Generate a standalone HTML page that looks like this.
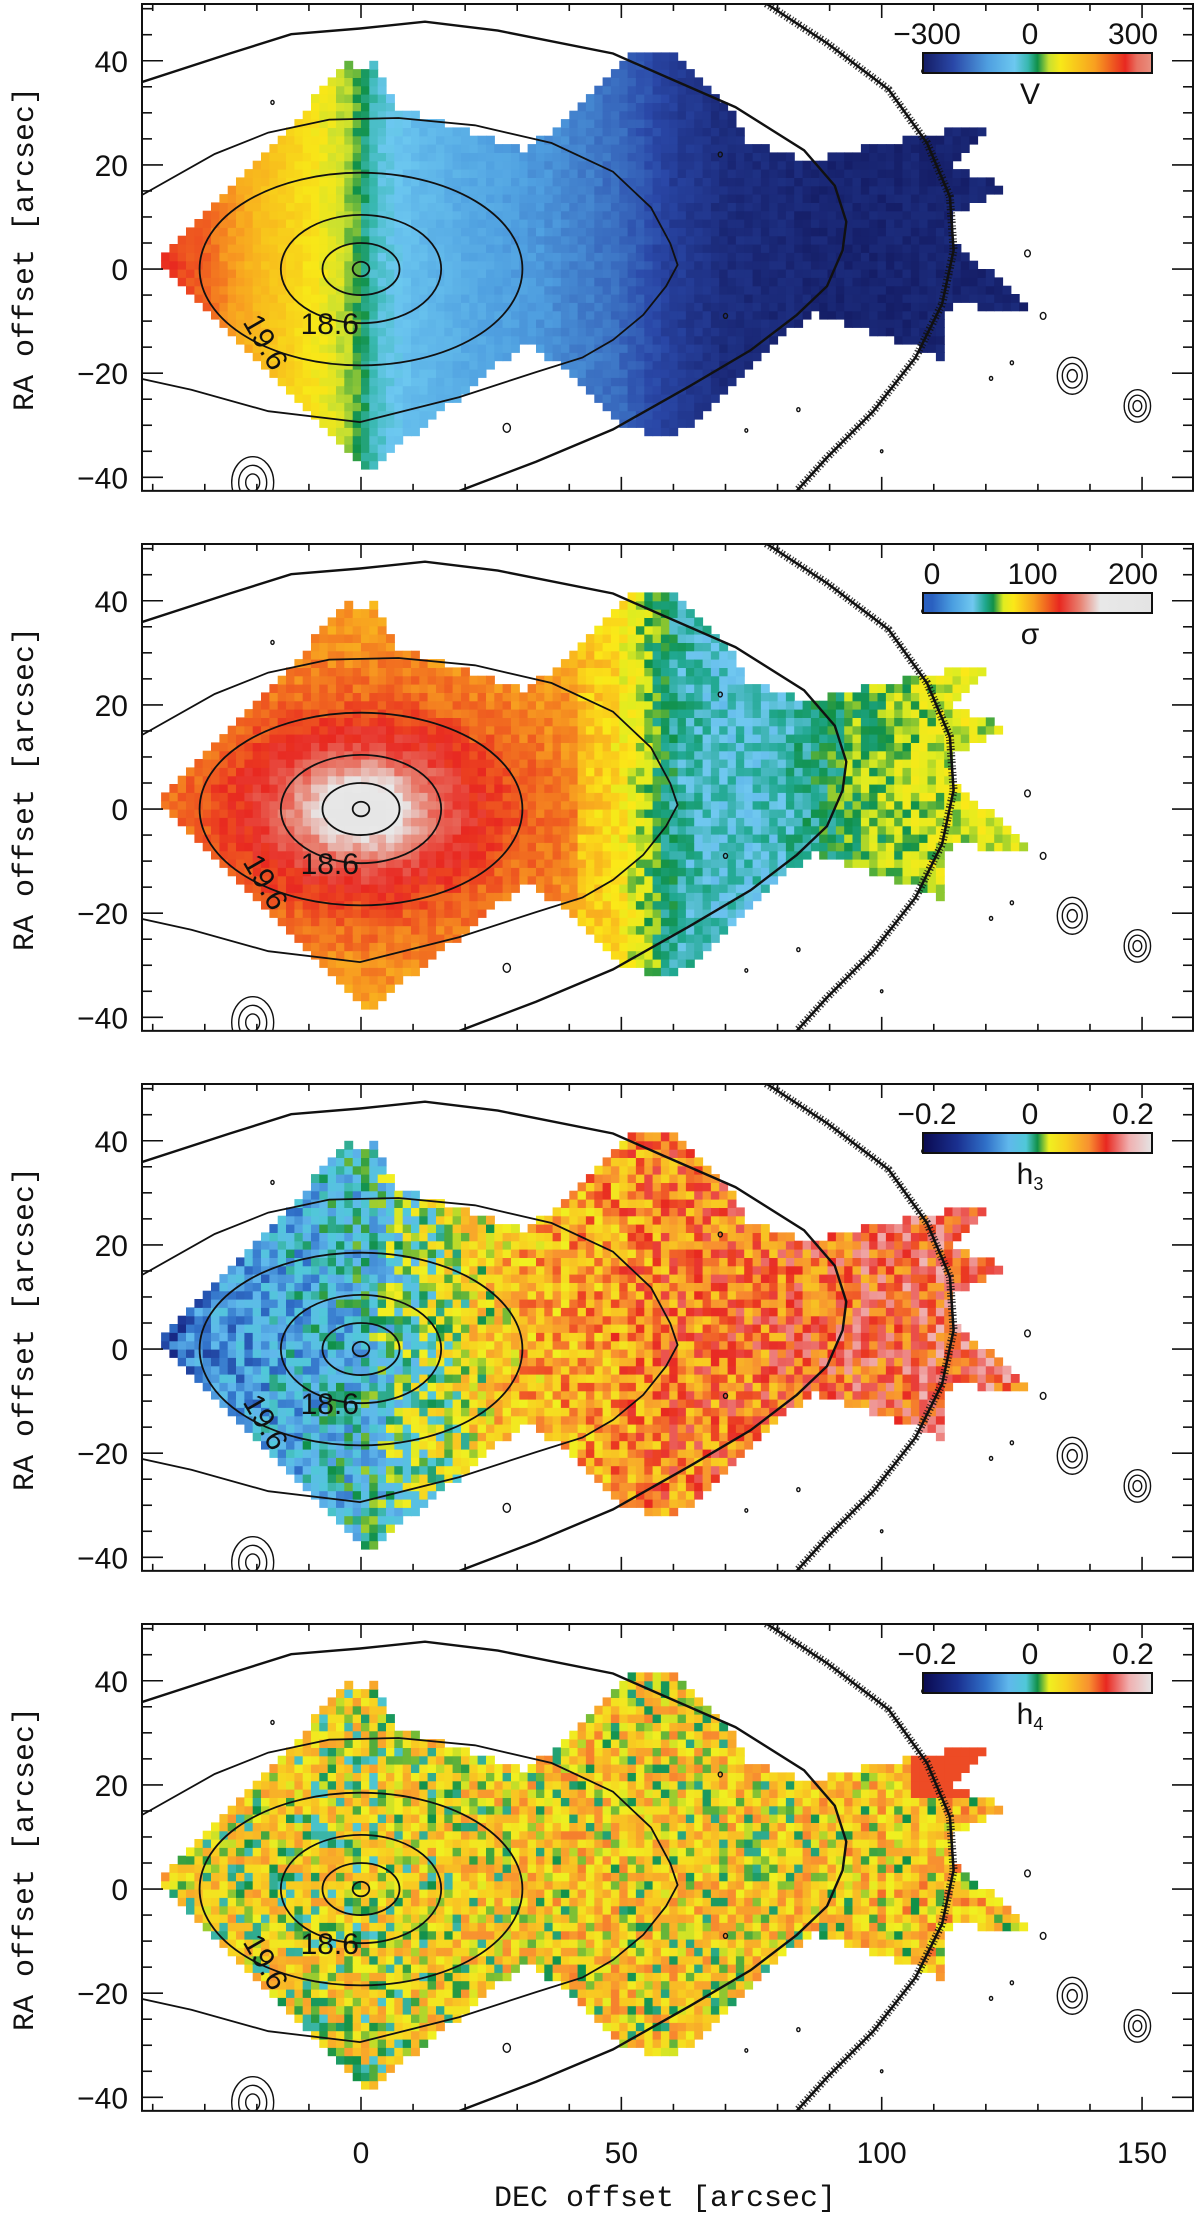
<!DOCTYPE html>
<html><head><meta charset="utf-8"><style>
html,body{margin:0;padding:0;background:#fff;}
svg{display:block;}
.tk{font-family:"Liberation Sans",sans-serif;font-size:30px;fill:#111;}
.ttl{font-family:"Liberation Mono",monospace;font-size:30px;fill:#111;}
</style></head><body>
<svg id="fig" width="1200" height="2216" viewBox="0 0 1200 2216" xmlns="http://www.w3.org/2000/svg"></svg>
<script>
// ---- data ----
const panelNames = ['V','sigma','h3','h4'];
const vDec = [-40,-30,-20,-10,-3,0,3,10,20,35,50,60,70,90,120];
const vVal = [240,190,120,70,30,0,-40,-80,-110,-140,-185,-240,-270,-285,-285];
const sigRad = [0,3,6,10,15,22,30,40];
const sigRadVal = [200,185,160,140,125,112,104,98];
const sigDec = [40,48,55,62,70,80,88,95,105,115,125];
const sigDecVal = [92,85,65,48,42,45,55,62,68,72,70];
const h3Dec = [-40,-30,-15,0,10,20,30,45,60,80,110];
const h3Val = [-0.13,-0.08,-0.05,-0.035,-0.005,0.03,0.06,0.07,0.09,0.1,0.12];
const h4Dec = [-40,0,40,80,100,125];
const h4Val = [0.04,0.03,0.045,0.04,0.05,0.05];
const speckle = [0.3,-0.7,0.9,-0.2,0.5,-1.0,0.1,0.8,-0.5,0.2,-0.9,0.6,-0.3,1.0,-0.6,0.4,-0.1,0.7,-0.4];
const vTicks = [-300,0,300], sigTicks = [0,100,200], hTicks = [-0.2,0,0.2];
const xTickLabels = [0,50,100,150];
const yTickLabels = [-40,-20,0,20,40];
// footprint (arcsec)
const footD = [-39.2,-2.4,-0.2,2.8,7.2,32.2,52.8,60.1,71.9,74.1,85.1,107.2,122.6,113.1,124.8,113.8,113.8,126.3,128.5,113.1,111.6,98.4,86.6,60.1,51.3,32.2,1.3,-0.2];
const footR = [0.8,39.6,38.6,39.6,31.1,22.8,42.0,41.4,29.0,24.9,20.7,25.6,28.0,20.1,15.6,11.1,5.0,-5.3,-8.4,-6.7,-17.0,-12.2,-8.1,-32.5,-30.4,-13.6,-38.7,-37.6];
// isophotes
const c5D=[-42.1,-28.1,-17.8,-6.1,7.2,21.9,36.6,48.4,55.7,59.4,60.8,58.6,54.2,48.4,42.5,33.6,18.9,-0.2,-17.8,-32.6,-42.1];
const c5R=[14.2,22.1,26.2,28.7,29.0,27.6,24.2,18.7,11.8,4.9,0.8,-3.3,-8.8,-13.6,-17.0,-19.8,-24.6,-29.4,-27.3,-23.2,-21.1];
const c6D=[-42.1,-25.2,-13.4,-0.2,12.3,26.3,48.4,58.6,71.9,85.1,91.0,93.2,92.5,89.5,83.7,74.8,63.1,48.4,33.6,18.9];
const c6R=[35.9,41.4,45.1,46.2,47.5,45.8,41.4,36.9,31.1,22.8,16.0,9.1,3.6,-3.3,-8.8,-15.6,-22.5,-30.8,-37.0,-42.6];
const ringD=[77.8,89.5,101.3,108.7,113.1,113.8,111.6,106.5,98.4,89.5,83.7];
const ringR=[51.0,43.4,34.5,24.2,13.9,3.6,-6.7,-17.0,-27.3,-36.2,-42.6];
const ellA=[1.6,7.4,15.4,31], ellB=[1.4,5,10.4,18.5];
const srcD=[-20.8,149.1,136.6,28,70,84,125,128,121,69,-17,108,74,100,131];
const srcR=[-41,-26.3,-20.5,-30.5,-9,-27,-18,3,-21,22,32,38,-31,-35,-9];
const srcSize=[3.5,2.2,2.5,1.8,1,0.8,0.8,1.4,0.8,1,0.8,0.8,0.7,0.6,1.4];
// colormaps
const vCmap=[[-300,'#141c64'],[-220,'#2a48a8'],[-130,'#4f9fe0'],[-60,'#6cc8f0'],[-25,'#38b8b0'],[0,'#109048'],[30,'#c8e030'],[60,'#f8e818'],[150,'#f8a020'],[230,'#e82820'],[260,'#e87060'],[300,'#e89080']];
const sCmap=[[0,'#2a60c0'],[20,'#4a9ee0'],[40,'#70c8f0'],[52,'#20a890'],[60,'#109048'],[70,'#e0ec20'],[80,'#fbe818'],[100,'#f8a020'],[125,'#e82820'],[145,'#e88070'],[165,'#e8e8e8'],[216,'#e4e4e4']];
const hCmap=[[-0.2,'#0a0a50'],[-0.14,'#1a3090'],[-0.09,'#3070c8'],[-0.05,'#60b8ec'],[-0.02,'#50c8d8'],[0,'#109048'],[0.02,'#f0f020'],[0.05,'#f8d020'],[0.09,'#f89030'],[0.12,'#e82820'],[0.16,'#f0b0b0'],[0.2,'#e4e4e4']];

// ---- axes ----
const X = d => 361 + 5.207*d;
const Y = (r,p) => 4 + 540*p + (50.9 - r)*5.207;
const NS='http://www.w3.org/2000/svg';
const svg=document.getElementById('fig');
function mk(tag,attrs,parent){const e=document.createElementNS(NS,tag);for(const k in attrs)e.setAttribute(k,attrs[k]);(parent||svg).appendChild(e);return e;}
function interp(xs,ys,x){if(x<=xs[0])return ys[0];for(let i=1;i<xs.length;i++){if(x<=xs[i]){const t=(x-xs[i-1])/(xs[i]-xs[i-1]);return ys[i-1]+t*(ys[i]-ys[i-1]);}}return ys[ys.length-1];}
function hex(c){return [parseInt(c.substr(1,2),16),parseInt(c.substr(3,2),16),parseInt(c.substr(5,2),16)];}
function cmap(st,v){if(v<=st[0][0])return st[0][1];for(let i=1;i<st.length;i++){if(v<=st[i][0]){const t=(v-st[i-1][0])/(st[i][0]-st[i-1][0]);const a=hex(st[i-1][1]),b=hex(st[i][1]);return 'rgb('+a.map((q,k)=>Math.round(q+t*(b[k]-q))).join(',')+')';}}return st[st.length-1][1];}
function inPoly(d,r){let c=false;for(let i=0,j=footD.length-1;i<footD.length;j=i++){if(((footR[i]>r)!=(footR[j]>r))&&(d<(footD[j]-footD[i])*(r-footR[i])/(footR[j]-footR[i])+footD[i]))c=!c;}return c;}
function mix(i,j){let h=(Math.imul(i,73856093)^Math.imul(j,19349663))>>>0;h^=h>>>13;h=Math.imul(h,1274126177)>>>0;h^=h>>>16;return h>>>0;}
function valueAt(p,d,r,k){
  const n=speckle[k%speckle.length];
  if(p===0) return interp(vDec,vVal,d)+n*12;
  if(p===1){ if(d<42){const rr=Math.sqrt((d/1.5)*(d/1.5)+r*r);return interp(sigRad,sigRadVal,rr)+n*6;} return interp(sigDec,sigDecVal,d)+n*9; }
  if(p===2) return interp(h3Dec,h3Val,d)+n*0.045;
  let v=interp(h4Dec,h4Val,d)+n*0.05; if(d>105&&r>18) v=0.11; return v;
}
const cms=[vCmap,sCmap,hCmap,hCmap];
const cbTicks=[vTicks,sigTicks,hTicks,hTicks];
const cbLabels=['V','σ','h','h'];
const cbRange=[[-300,300],[-9,216],[-0.2,0.2],[-0.2,0.2]];

function path(ds,rs,p){return ds.map((d,i)=>(i?'L':'M')+X(d).toFixed(1)+','+Y(rs[i],p).toFixed(1)).join('');}

for(let p=0;p<4;p++){
  const g=mk('g',{});
  
  
  const top=4+540*p, bot=Y(-42.6,p);
  const clipId='clip'+p;
  const cp=mk('clipPath',{id:clipId},g);
  mk('rect',{x:142,y:top,width:1051,height:bot-top},cp);
  const map=mk('g',{'clip-path':'url(#'+clipId+')'},g);
  
  
  // cells
  const step=1.6; let i=0;
  for(let d=-40;d<130;d+=step){i++; let j=0; for(let r=-40;r<43;r+=step){j++;
    const dc=d+step/2, rc=r+step/2;
    if(!inPoly(dc,rc))continue;
    const idx=mix(i+p*7,j+p*3);
    const c=cmap(cms[p],valueAt(p,dc,rc,idx));
    const cell=mk('rect',{x:X(d).toFixed(1),y:Y(r+step,p).toFixed(1),width:(step*5.207+0.6).toFixed(1),height:(step*5.207+0.6).toFixed(1),fill:c},map);
    
    
  }}
  // contours
  for(let e=0;e<ellA.length;e++){
    const el=mk('ellipse',{cx:X(0),cy:Y(0,p),rx:ellA[e]*5.207,ry:ellB[e]*5.207,fill:'none',stroke:'#111','stroke-width':1.8},map);
    
    
  }
  const c5=mk('path',{d:path(c5D,c5R,p),fill:'none',stroke:'#111','stroke-width':1.8},map);
  
  
  const c6=mk('path',{d:path(c6D,c6R,p),fill:'none',stroke:'#111','stroke-width':2.4},map);
  
  
  const ring=mk('path',{d:path(ringD,ringR,p),fill:'none',stroke:'#111','stroke-width':8,'stroke-dasharray':'1.5 2.5 1 1.5','opacity':0.85},map);
  
  
  const ring2=mk('path',{d:path(ringD,ringR,p),fill:'none',stroke:'#111','stroke-width':2.5},map);
  
  
  for(let s=0;s<srcD.length;s++){
    for(let q=1;q<=(srcSize[s]>2?3:1);q++){
      const sc=mk('ellipse',{cx:X(srcD[s]),cy:Y(srcR[s],p),rx:srcSize[s]*q/1.3*2.6,ry:srcSize[s]*q/1.3*3.2,fill:'none',stroke:'#111','stroke-width':1.4},map);
      
      
    }
  }
  const l1=mk('text',{x:X(-6),y:Y(-12.5,p),class:'tk','text-anchor':'middle','font-size':26},map);l1.textContent='18.6';
  
  
  const l2=mk('text',{x:X(-20),y:Y(-15,p),class:'tk','text-anchor':'middle','font-size':26,transform:'rotate(60 '+X(-20)+' '+Y(-15,p)+')'},map);l2.textContent='19.6';
  
  
  // frame
  const fr=mk('rect',{x:142,y:top,width:1051,height:bot-top,fill:'none',stroke:'#111','stroke-width':2},g);
  
  
  for(let d=-40;d<=150;d+=10){const L=(d%50===0)?14:7;
    mk('line',{x1:X(d),x2:X(d),y1:bot,y2:bot-L,stroke:'#111','stroke-width':1.6},g);
    mk('line',{x1:X(d),x2:X(d),y1:top,y2:top+L,stroke:'#111','stroke-width':1.6},g);}
  for(let r=-40;r<=50;r+=5){const L=(r%20===0)?21:10;
    mk('line',{x1:142,x2:142+L,y1:Y(r,p),y2:Y(r,p),stroke:'#111','stroke-width':1.6},g);
    mk('line',{x1:1193,x2:1193-L,y1:Y(r,p),y2:Y(r,p),stroke:'#111','stroke-width':1.6},g);}
  yTickLabels.forEach(v=>{const t=mk('text',{x:128,y:Y(v,p)+11,class:'tk','text-anchor':'end'},g);t.textContent=(v<0?'−':'')+Math.abs(v);
    
    });
  const yt=mk('text',{x:0,y:0,class:'ttl','text-anchor':'middle',transform:'translate(33 '+(top+245)+') rotate(-90)'},g);yt.textContent='RA offset [arcsec]';
  
  
  // colorbar
  const gid='grad'+p; const lg=mk('linearGradient',{id:gid,x1:0,x2:1,y1:0,y2:0},g);
  const [lo,hi]=cbRange[p];
  cms[p].forEach(s=>{mk('stop',{offset:Math.max(0,Math.min(1,(s[0]-lo)/(hi-lo))),'stop-color':s[1]},lg);});
  const cb=mk('rect',{x:923,y:top+49,width:229,height:20,fill:'url(#'+gid+')',stroke:'#111','stroke-width':2},g);
  
  
  const cbx=v=>p===1?932+(v/200)*201:927+(v-cbTicks[p][0])/(cbTicks[p][2]-cbTicks[p][0])*206;
  cbTicks[p].forEach(v=>{const t=mk('text',{x:cbx(v),y:top+40,class:'tk','text-anchor':'middle'},g);
    t.textContent=(v<0?'−':'')+Math.abs(v);
    
    });
  const lab=mk('text',{x:1030,y:top+100,class:'tk','text-anchor':'middle','font-family':'Liberation Serif'},g);
  lab.textContent=cbLabels[p];
  if(p>=2){const sub=mk('tspan',{'font-size':18,dy:6},lab);sub.textContent=(p===2?'3':'4');}
  
  
}
xTickLabels.forEach(v=>{const t=mk('text',{x:X(v),y:2163,class:'tk','text-anchor':'middle'});t.textContent=v;
  
  });
const xt=mk('text',{x:665,y:2206,class:'ttl','text-anchor':'middle'});xt.textContent='DEC offset [arcsec]';


</script>
</body></html>
